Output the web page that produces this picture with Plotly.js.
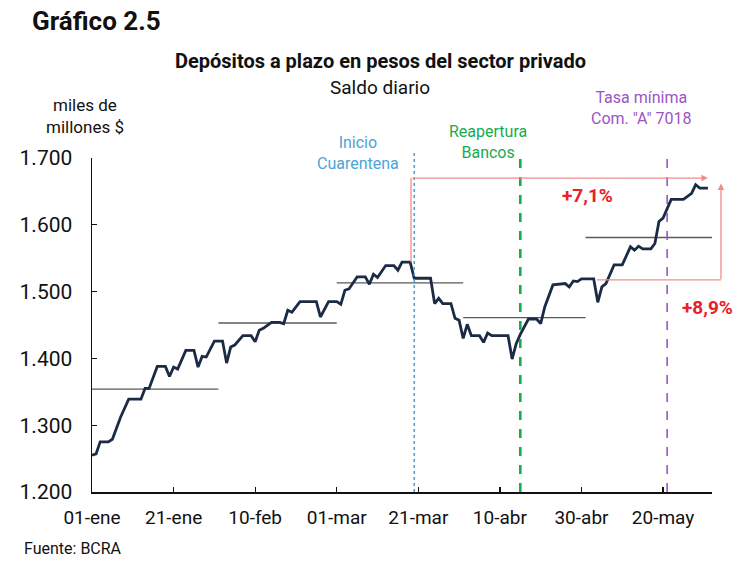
<!DOCTYPE html>
<html>
<head>
<meta charset="utf-8">
<script src="https://cdn.plot.ly/plotly-3.0.1.min.js"></script>
<style>html,body{margin:0;padding:0;background:#fff;}#chart{width:750px;height:569px;}</style>
</head>
<body>
<div id="chart"></div>
<script>
// Daily balance (miles de millones $)
var dates = ['2020-01-01','2020-01-02','2020-01-03','2020-01-05','2020-01-06','2020-01-07','2020-01-08','2020-01-10','2020-01-13','2020-01-14','2020-01-15','2020-01-17','2020-01-19','2020-01-20','2020-01-21','2020-01-22','2020-01-24','2020-01-26','2020-01-27','2020-01-28','2020-01-29','2020-01-31',
'2020-02-02','2020-02-03','2020-02-04','2020-02-05','2020-02-07','2020-02-09','2020-02-10','2020-02-11','2020-02-12','2020-02-14','2020-02-16','2020-02-17','2020-02-18','2020-02-19','2020-02-21','2020-02-25','2020-02-26','2020-02-28',
'2020-03-01','2020-03-02','2020-03-03','2020-03-04','2020-03-06','2020-03-08','2020-03-09','2020-03-10','2020-03-11','2020-03-13','2020-03-15','2020-03-16','2020-03-17','2020-03-19','2020-03-20','2020-03-24','2020-03-25','2020-03-26','2020-03-27','2020-03-29','2020-03-30','2020-03-31',
'2020-04-01','2020-04-02','2020-04-03','2020-04-05','2020-04-06','2020-04-07','2020-04-08','2020-04-12','2020-04-13','2020-04-14','2020-04-15','2020-04-17','2020-04-19','2020-04-20','2020-04-21','2020-04-23','2020-04-26','2020-04-27','2020-04-28','2020-04-29','2020-04-30',
'2020-05-03','2020-05-04','2020-05-05','2020-05-06','2020-05-08','2020-05-10','2020-05-12','2020-05-13','2020-05-14','2020-05-15','2020-05-17','2020-05-18','2020-05-19','2020-05-20','2020-05-22','2020-05-25','2020-05-27','2020-05-28','2020-05-29','2020-05-31'];
var saldo = [1255,1257,1275,1275,1279,1297,1312,1339,1339,1355,1355,1388,1388,1373,1387,1384,1412,1412,1387,1403,1402,1426,
1426,1393,1417,1420,1434,1434,1425,1442,1445,1454,1454,1452,1472,1469,1485,1485,1462,1485,
1485,1481,1502,1504,1522,1522,1511,1526,1521,1539,1539,1532,1544,1544,1520,1520,1482,1490,1482,1482,1460,1457,
1430,1451,1434,1434,1424,1438,1434,1434,1399,1422,1436,1459,1459,1452,1477,1510,1512,1507,1516,1515,1519,
1519,1484,1507,1512,1540,1540,1567,1562,1568,1564,1564,1572,1605,1610,1638,1638,1647,1660,1655,1655];

// Monthly averages
var monthStart = ['2020-01-01','2020-02-01','2020-03-01','2020-04-01','2020-05-01'];
var monthEnd   = ['2020-02-01','2020-03-01','2020-04-01','2020-05-01','2020-06-01'];
var monthAvg   = [1354,1453,1513,1461,1581];

// Events
var eventDates  = ['2020-03-20','2020-04-15','2020-05-21'];
var eventLabels = ['Inicio<br>Cuarentena','Reapertura<br>Bancos','Tasa mínima<br>Com. "A" 7018'];

// Ticks
var tickDates  = ['2020-01-01','2020-01-21','2020-02-10','2020-03-01','2020-03-21','2020-04-10','2020-04-30','2020-05-20'];
var tickLabels = ['01-ene','21-ene','10-feb','01-mar','21-mar','10-abr','30-abr','20-may'];
var yTicks = [1200,1300,1400,1500,1600,1700];
var yTickLabels = ['1.200','1.300','1.400','1.500','1.600','1.700'];

// Variation brackets
var varLabels = ['+7,1%','+8,9%'];
var bracketTop = 1670;    // level of the arrows
var preQuarantine = 1544; // level before quarantine
var endApril = 1517.5;    // level at end of April

var FONT = 'Roboto, "Noto Sans", sans-serif';

var avgX = [], avgY = [];
for (var i = 0; i < monthAvg.length; i++) {
  avgX.push(monthStart[i], monthEnd[i], null);
  avgY.push(monthAvg[i], monthAvg[i], null);
}

var traces = [
  {x: avgX, y: avgY, mode: 'lines', line: {color: '#5a5a5a', width: 1.3}, hoverinfo: 'skip'},
  {x: dates, y: saldo, mode: 'lines', line: {color: '#1c2b45', width: 2.8}}
];

var evColors = ['#4ea3d6', '#17ab4f', '#9a55c4'];
var evDash = ['dot', 'dash', 'dash'];
var evWidth = [1.6, 2.6, 1.6];

var shapes = [];
for (var k = 0; k < eventDates.length; k++) {
  shapes.push({type: 'line', xref: 'x', yref: 'paper', x0: eventDates[k], x1: eventDates[k], y0: 0, y1: 1.02,
    line: {color: evColors[k], width: evWidth[k], dash: evDash[k]}});
}
var RED_L = '#f28c8c';
shapes.push({type: 'line', xref: 'x', yref: 'y', x0: '2020-03-19 05:00', x1: '2020-03-19 05:00', y0: preQuarantine, y1: bracketTop,
  line: {color: RED_L, width: 1.3}});
shapes.push({type: 'line', xref: 'paper', yref: 'y', x0: 0.8146, x1: 1.0145, y0: endApril, y1: endApril,
  line: {color: RED_L, width: 1.3}});

function txt(x, y, text, size, color, xanchor) {
  return {x: x, y: y, xref: 'paper', yref: 'paper', text: text, showarrow: false,
    xanchor: xanchor || 'center', yanchor: 'middle', font: {family: FONT, size: size, color: color}};
}

var annotations = [
  {x: '2020-05-31', y: bracketTop, ax: '2020-03-19 05:00', ay: bracketTop, xref: 'x', yref: 'y', axref: 'x', ayref: 'y',
   showarrow: true, arrowhead: 2, arrowsize: 1, arrowwidth: 1.3, arrowcolor: RED_L, text: ''},
  {x: 1.0145, y: 1662, xref: 'paper', yref: 'y', ax: 0, ay: 97, showarrow: true, arrowhead: 2, arrowsize: 1,
   arrowwidth: 1.3, arrowcolor: RED_L, text: ''},
  {x: '2020-05-01 10:00', y: 1643.5, xref: 'x', yref: 'y', text: '<b>' + varLabels[0] + '</b>', showarrow: false,
   xanchor: 'center', yanchor: 'middle', font: {family: FONT, size: 19, color: '#e8202a'}},
  {x: 0.992, y: 1475.5, xref: 'paper', yref: 'y', text: '<b>' + varLabels[1] + '</b>', showarrow: false,
   xanchor: 'center', yanchor: 'middle', font: {family: FONT, size: 19, color: '#e8202a'}},
  txt(0.4293, 1.016, eventLabels[0], 16, evColors[0]),
  txt(0.6389, 1.0474, eventLabels[1], 16, evColors[1]),
  txt(0.8855, 1.149, eventLabels[2], 16, evColors[2]),
  txt(-0.0995, 1.409, '<b>Gráfico 2.5</b>', 26, '#111', 'left'),
  txt(0.4648, 1.289, '<b>Depósitos a plazo en pesos del sector privado</b>', 20, '#111'),
  txt(0.4648, 1.2108, 'Saldo diario', 19, '#111'),
  txt(-0.0108, 1.127, 'miles de<br>millones $', 17, '#111'),
  txt(-0.1124, -0.169, 'Fuente: BCRA', 16, '#111', 'left')
];

var layout = {
  width: 750, height: 569,
  margin: {l: 92, r: 38, t: 158, b: 77},
  paper_bgcolor: '#fff', plot_bgcolor: '#fff',
  showlegend: false,
  font: {family: FONT, color: '#111'},
  xaxis: {type: 'date', range: ['2020-01-01', '2020-06-01'], tickvals: tickDates, ticktext: tickLabels,
    showgrid: false, zeroline: false, showline: true, linecolor: '#111', linewidth: 1.5,
    ticks: 'inside', ticklen: 5, tickcolor: '#111', tickwidth: 1.3, ticklabelstandoff: 8,
    tickfont: {family: FONT, size: 19, color: '#111'}, fixedrange: true},
  yaxis: {range: [1200, 1700], tickvals: yTicks, ticktext: yTickLabels, showgrid: false, zeroline: false,
    showline: true, linecolor: '#111', linewidth: 1.5, ticks: 'inside', ticklen: 5, tickcolor: '#111', tickwidth: 1.3,
    ticklabelstandoff: 14, tickfont: {family: FONT, size: 21, color: '#111'}, fixedrange: true},
  shapes: shapes,
  annotations: annotations
};

Plotly.newPlot('chart', traces, layout, {displayModeBar: false, staticPlot: true});
</script>
</body>
</html>
